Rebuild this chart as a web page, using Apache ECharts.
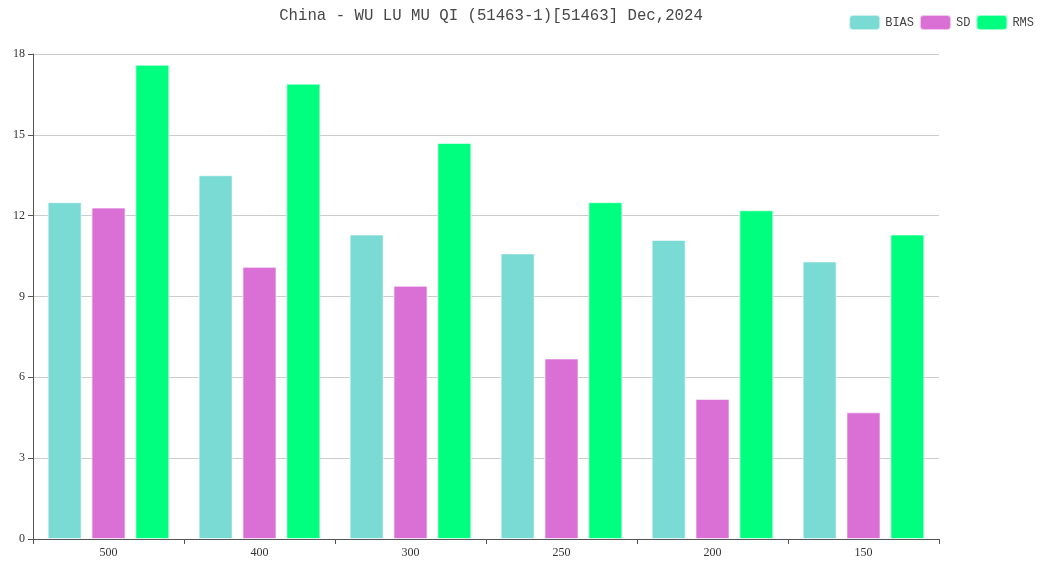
<!DOCTYPE html>
<html>
<head>
<meta charset="utf-8">
<script src="https://cdn.jsdelivr.net/npm/echarts@6/dist/echarts.min.js"></script>
<style>
  html, body { margin: 0; padding: 0; background: #fff; }
  #chart { width: 1047px; height: 563px; }
</style>
</head>
<body>
<div id="chart"></div>
<script>
// Pressure levels (hPa) and monthly verification statistics
const levels = ['500', '400', '300', '250', '200', '150'];
const biasValues = [12.5, 13.5, 11.3, 10.6, 11.1, 10.3];
const sdValues = [12.3, 10.1, 9.4, 6.7, 5.2, 4.7];
const rmsValues = [17.6, 16.9, 14.7, 12.5, 12.2, 11.3];
const yTicks = [0, 3, 6, 9, 12, 15, 18];

const titleText = 'China - WU LU MU QI (51463-1)[51463] Dec,2024';
const monoFont = '"Liberation Mono", "DejaVu Sans Mono", monospace';
const serifFont = '"Liberation Serif", "DejaVu Serif", serif';

const chart = echarts.init(document.getElementById('chart'));

function barSeries(name, data, color) {
  return {
    name: name,
    type: 'bar',
    data: data,
    barWidth: 34,
    barGap: '29%',
    itemStyle: { color: color, borderColor: 'rgba(255,255,255,0.6)', borderWidth: 1 },
    emphasis: { disabled: true }
  };
}

chart.setOption({
  animation: false,
  backgroundColor: '#ffffff',
  title: {
    text: titleText,
    left: 486,
    textAlign: 'center',
    top: 3,
    textStyle: { fontFamily: monoFont, fontSize: 15.7, fontWeight: 'normal', color: '#464646' }
  },
  legend: {
    right: 8,
    top: 9,
    itemWidth: 31,
    itemHeight: 15,
    itemGap: 5,
    textStyle: { fontFamily: monoFont, fontSize: 12, color: '#444' },
    data: ['BIAS', 'SD', 'RMS']
  },
  grid: { left: 33, right: 108, top: 54, bottom: 24, containLabel: false },
  xAxis: {
    type: 'category',
    data: levels,
    axisLine: { lineStyle: { color: '#555', width: 1 } },
    axisTick: { show: true, length: 5, lineStyle: { color: '#555' } },
    axisLabel: { fontFamily: serifFont, fontSize: 12, color: '#333', margin: 8 },
    splitLine: { show: false }
  },
  yAxis: {
    type: 'value',
    min: yTicks[0],
    max: yTicks[yTicks.length - 1],
    interval: 3,
    axisLine: { show: true, lineStyle: { color: '#555', width: 1 } },
    axisTick: { show: true, length: 5, lineStyle: { color: '#555' } },
    axisLabel: { fontFamily: serifFont, fontSize: 12, color: '#333', margin: 8 },
    splitLine: { show: true, lineStyle: { color: '#ccc' } }
  },
  series: [
    barSeries('BIAS', biasValues, '#7adad4'),
    barSeries('SD', sdValues, '#da70d6'),
    barSeries('RMS', rmsValues, '#00ff7f')
  ]
});
</script>
</body>
</html>
